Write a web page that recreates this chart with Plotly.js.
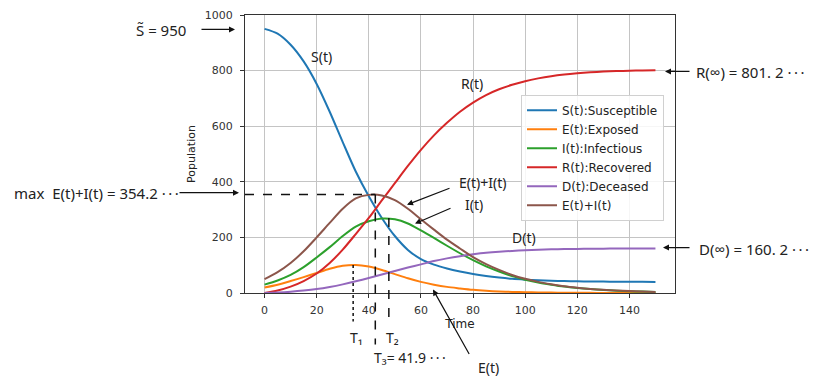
<!DOCTYPE html>
<html>
<head>
<meta charset="utf-8">
<script src="https://cdn.plot.ly/plotly-3.0.1.min.js"></script>
<style>html,body{margin:0;padding:0;background:#fff}#chart{width:814px;height:376px}</style>
</head>
<body>
<div id="chart"></div>
<script>
// ---- data ----
const time = [0,5,10,15,20,25,30,35,40,45,50,55,60,65,70,75,80,85,90,95,100,105,110,115,120,125,130,135,140,145,150];
const susceptible = [950,933,893,833,752,652,543,437,348,270,205,155,122,102,88,77,68,61,55.5,51,48,45.5,44,43,42,41.5,41,40.8,40.5,40.3,40];
const exposed = [20,30,43,57,72,87,98,101,95,83,68,53,40,30,22,16.5,11.5,8,5.5,4,3,2,1.5,1,0.7,0.5,0.35,0.25,0.18,0.13,0.1];
const infectious = [30,45,65,93,128,165,205,239,258,268,265,250,225,198,170,143,118,96,77.5,61,48,38,30,23,18,14,11,8.5,6.6,5.1,3.9];
const recovered = [0,9,23,43,70,108,156,212,270,333,395,457,515,567,612,652,685,712,733,749,762,772,780,786,790.5,794,796.5,798.3,799.6,800.5,801.2];
const deceased = [0,1.8,4.6,8.6,14,21.6,31,42,54,66.5,79,91.5,103,115,124.5,132.5,139,144.5,148.5,151.5,154,155.8,157.1,158,158.7,159.2,159.6,159.9,160,160.1,160.2];
const exposedPlusInfectious = [50,75,108,150,200,252,303,340,353,351,334,303,265,228,192,160,129,104,83,65,51,40,31.5,24,18.7,14.5,11.3,8.7,6.8,5.2,4];
const seriesNames = ['S(t):Susceptible','E(t):Exposed','I(t):Infectious','R(t):Recovered','D(t):Deceased','E(t)+I(t)'];
const xTicks = [0,20,40,60,80,100,120,140];
const yTicks = [0,200,400,600,800,1000];
// key values marked in the figure
const S0 = 950, Rinf = '801. 2', Dinf = '160. 2', maxEI = 354.2;
const T1 = 34, T2 = 47.7, T3 = 42.5, T3label = 41.9;
const peakE = 101, peakI = 270;

// ---- styling ----
const colors = ['#1f77b4','#ff7f0e','#2ca02c','#d62728','#9467bd','#8c564b'];
const allSeries = [susceptible, exposed, infectious, recovered, deceased, exposedPlusInfectious];
const traces = allSeries.map((v,i)=>({
  x: time, y: v, type:'scatter', mode:'lines', name: seriesNames[i],
  line:{color:colors[i], width:2, shape:'spline', smoothing:0.8}
}));

// pixel geometry of the plot area (for placing annotation text)
const L=245, R=675, T=15, B=293.5;
const px = p => (p-L)/(R-L);
const py = p => (B-p)/(B-T);
const outFont = {family:'Noto Sans, Open Sans, sans-serif', size:15, color:'#222'};
const inFont = {family:'Noto Sans, Open Sans, sans-serif', size:14, color:'#222'};
const dots = '\u00b7\u2009\u00b7\u2009\u00b7';

function label(text, xpix, ypix, anchor, font){
  return {xref:'paper', yref:'paper', x:px(xpix), y:py(ypix), text:text, showarrow:false,
          xanchor:anchor||'center', yanchor:'middle', font:font||outFont};
}
function arrow(tipX, tipY, tailX, tailY){
  return {xref:'paper', yref:'paper', x:px(tipX), y:py(tipY), ax:tailX-tipX, ay:tailY-tipY,
          text:'', showarrow:true, arrowhead:2, arrowsize:1, arrowwidth:1.2, arrowcolor:'#111', standoff:0, startstandoff:0};
}

const annotations = [
  label('S\u0303 = ' + S0, 134, 30, 'left'),
  arrow(235, 29.5, 200, 29.5),
  label('max  E(t)+I(t) = ' + maxEI + ' ' + dots, 12, 193, 'left'),
  arrow(239, 193, 178, 193),
  label('R(\u221e) = ' + Rinf + ' ' + dots, 694, 72, 'left'),
  arrow(665, 71.5, 691, 71.5),
  label('D(\u221e) = ' + Dinf + ' ' + dots, 697, 249, 'left'),
  arrow(663, 248, 691, 248),
  label('S(t)', 321, 57, 'center', inFont),
  label('R(t)', 472, 84, 'center', inFont),
  label('D(t)', 524, 238, 'center', inFont),
  label('E(t)+I(t)', 482, 183, 'center', inFont),
  arrow(407, 205, 451, 188),
  label('I(t)', 474, 205, 'center', inFont),
  arrow(415, 224, 452, 208),
  label('E(t)', 488, 368, 'center', inFont),
  arrow(433, 290, 470, 356),
  label('T\u2081', 356, 338, 'center', inFont),
  label('T\u2082', 392, 338, 'center', inFont),
  label('T\u2083= ' + T3label + ' ' + dots, 372, 358, 'left', inFont)
];

const shapes = [
  {type:'line', xref:'x', yref:'y', x0:-7.5, x1:T3, y0:maxEI, y1:maxEI, line:{color:'#111', width:1.5, dash:'dash'}},
  {type:'line', xref:'x', yref:'paper', x0:T3, x1:T3, y0:maxEI/1000, y1:py(345), line:{color:'#111', width:1.5, dash:'dash'}},
  {type:'line', xref:'x', yref:'paper', x0:T2, x1:T2, y0:peakI/1000, y1:py(322), line:{color:'#111', width:1.5, dash:'dash'}},
  {type:'line', xref:'x', yref:'paper', x0:T1, x1:T1, y0:peakE/1000, y1:py(322), line:{color:'#111', width:1.5, dash:'dot'}}
];

const axisCommon = {
  showgrid:true, gridcolor:'#c4c4c4', gridwidth:1, zeroline:false,
  showline:true, mirror:true, linecolor:'#333', linewidth:1,
  ticks:'outside', ticklen:4, tickcolor:'#333', tickwidth:1,
  tickfont:{family:'DejaVu Sans, sans-serif', size:11, color:'#333'}
};

const layout = {
  width:814, height:376,
  margin:{l:L, r:814-R, t:T, b:376-B},
  paper_bgcolor:'#fff', plot_bgcolor:'#fff',
  showlegend:true,
  legend:{x:px(521), y:py(95), xanchor:'left', yanchor:'top',
          bgcolor:'rgba(255,255,255,0.85)', bordercolor:'#d0d0d0', borderwidth:1,
          tracegroupgap:0,
          font:{family:'DejaVu Sans, sans-serif', size:12, color:'#222'}},
  xaxis: Object.assign({}, axisCommon, {range:[-7.5,157.5], tickvals:xTicks, ticktext:xTicks.map(String),
          ticklabelstandoff:3,
          title:{text:'Time', font:{family:'DejaVu Sans, sans-serif', size:12, color:'#222'}, standoff:3}}),
  yaxis: Object.assign({}, axisCommon, {range:[0,1000], tickvals:yTicks, ticktext:yTicks.map(String),
          ticklabelstandoff:5,
          title:{text:'Population', font:{family:'DejaVu Sans, sans-serif', size:11, color:'#222'}, standoff:6}}),
  annotations: annotations,
  shapes: shapes
};

Plotly.newPlot('chart', traces, layout, {displayModeBar:false, staticPlot:true});
</script>
</body>
</html>
